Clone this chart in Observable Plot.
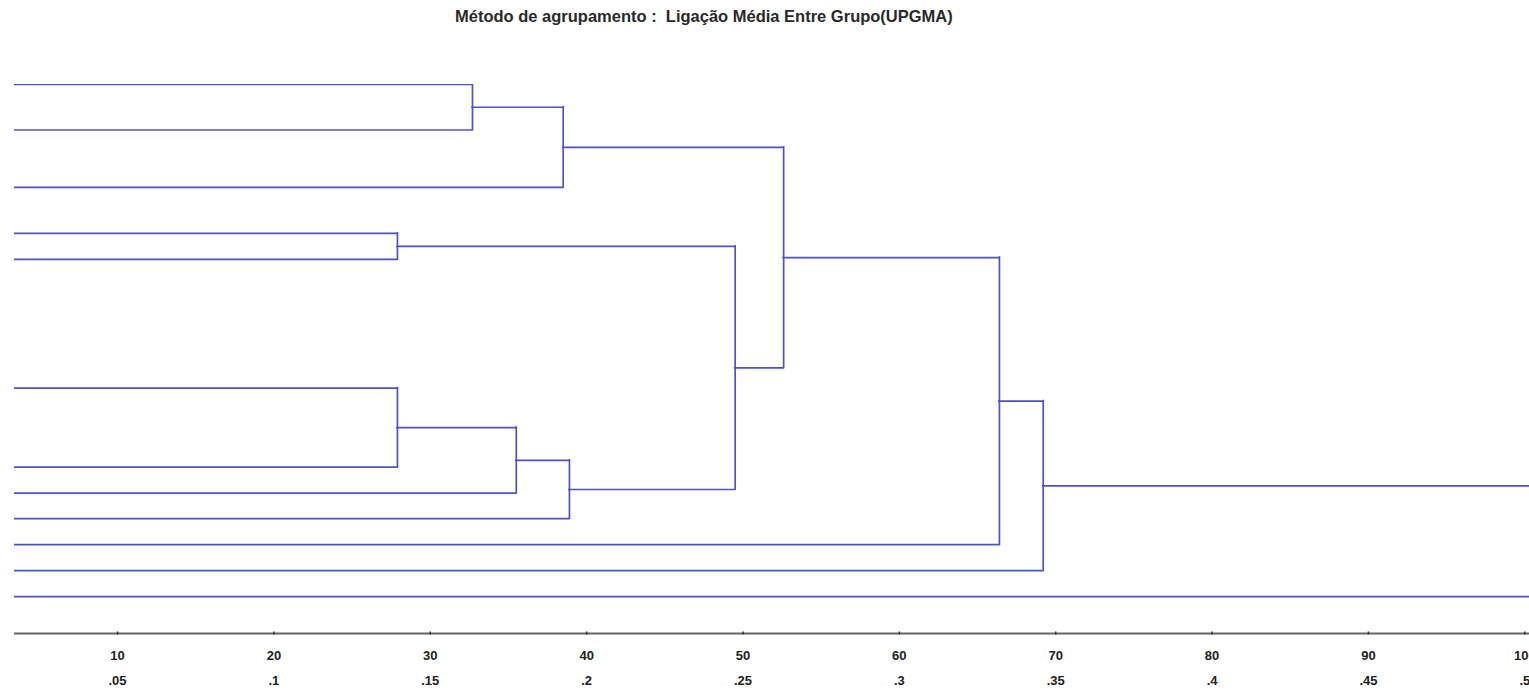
<!DOCTYPE html>
<html><head><meta charset="utf-8">
<script src="https://cdn.jsdelivr.net/npm/d3@7"></script>
<script src="https://cdn.jsdelivr.net/npm/@observablehq/plot@0.6"></script>
<style>
body{margin:0;background:#fff;width:1529px;height:699px;overflow:hidden;position:relative}
#title{position:absolute;left:455px;top:7px;line-height:18px;font:bold 16.5px "Liberation Sans",Arial,sans-serif;white-space:pre;color:#2a2a2a}
#chart{position:absolute;left:0;top:30px}
</style></head><body>
<div id="title">Método de agrupamento :  Ligação Média Entre Grupo(UPGMA)</div>
<div id="chart"></div>
<script>
// Leaf vertical order positions (row units, top to bottom)
const leafPos = [0, 1.75, 3.96, 5.73, 6.73, 11.68, 14.72, 15.72, 16.70, 17.70, 18.70, 19.70];
// Merges: [childA, childB, rescaled distance]; ids >= 12 refer to earlier merges
const mergeA = [0, 12, 3, 5, 15, 16, 14, 13, 19, 20, 21];
const mergeB = [1, 2, 4, 6, 7, 8, 17, 18, 9, 10, 11];
const mergeHeight = [32.7, 38.5, 27.9, 27.9, 35.5, 38.9, 49.5, 52.6, 66.4, 69.2, 104];
const tickValues = [10, 20, 30, 40, 50, 60, 70, 80, 90, 100];
const tickLabels = ["10", "20", "30", "40", "50", "60", "70", "80", "90", "100"];
const tickLabels2 = [".05", ".1", ".15", ".2", ".25", ".3", ".35", ".4", ".45", ".5"];

const leafStart = 0;
const nodeX = [], nodeY = [];
leafPos.forEach((p, i) => { nodeX[i] = leafStart; nodeY[i] = p; });
const horiz = [], vert = [];
mergeHeight.forEach((h, k) => {
  const a = mergeA[k], b = mergeB[k], id = leafPos.length + k;
  nodeX[id] = h;
  nodeY[id] = (nodeY[a] + nodeY[b]) / 2;
  horiz.push({x1: nodeX[a], x2: h, y: nodeY[a]});
  horiz.push({x1: nodeX[b], x2: h, y: nodeY[b]});
  vert.push({x: h, y1: nodeY[a], y2: nodeY[b]});
});

const yMax = 21.12;
const lineColor = "#5050cc";
const chart = Plot.plot({
  width: 1529,
  height: 669,
  marginLeft: 14,
  marginRight: 0,
  marginTop: 54,
  marginBottom: 66,
  style: {fontFamily: "'Liberation Sans', Arial, sans-serif", background: "white", color: "#222"},
  x: {domain: [3.41, 100.3], axis: null},
  y: {domain: [0, yMax], reverse: true, axis: null},
  marks: [
    Plot.ruleY(horiz, {x1: "x1", x2: "x2", y: "y", stroke: lineColor, strokeWidth: 1.7, strokeLinecap: "square", clip: true}),
    Plot.ruleX(vert, {x: "x", y1: "y1", y2: "y2", stroke: lineColor, strokeWidth: 1.7, strokeLinecap: "square", clip: true}),
    Plot.ruleY([yMax], {stroke: "#666", strokeWidth: 1.8}),
    Plot.axisX(tickValues, {anchor: "bottom", tickSize: 3, dy: -1.5, tickFormat: () => "", stroke: "#333", strokeWidth: 1.5}),
    Plot.text(tickValues, {x: d => d, text: (d, i) => tickLabels[i], frameAnchor: "bottom", dy: 26, fontWeight: "bold", fontSize: 13, fill: "#222"}),
    Plot.text(tickValues, {x: d => d, text: (d, i) => tickLabels2[i], frameAnchor: "bottom", dy: 51, fontWeight: "bold", fontSize: 13, fill: "#222"})
  ]
});
document.getElementById("chart").appendChild(chart);
</script>
</body></html>
